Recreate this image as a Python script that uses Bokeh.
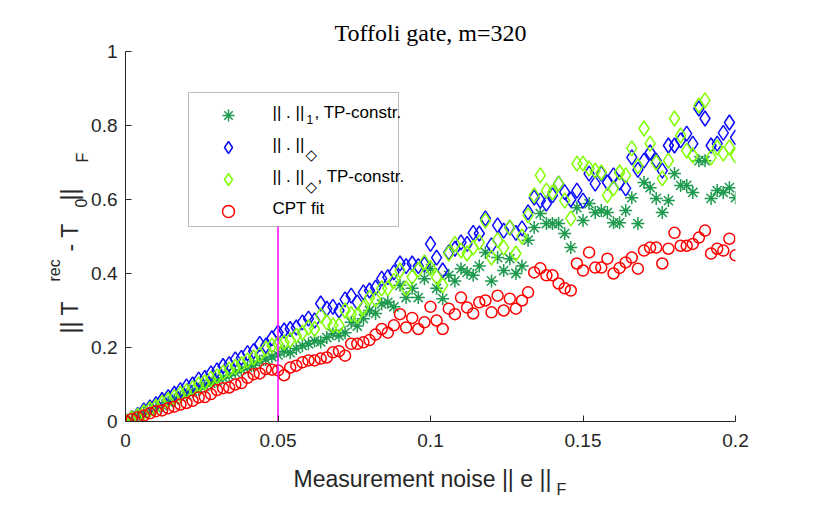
from math import pi

import numpy as np
from bokeh.embed import file_html
from bokeh.models import BoxAnnotation, FixedTicker, Label, Legend, LegendItem, Range1d
from bokeh.plotting import figure
from bokeh.resources import INLINE

# Measurement noise levels ||e||_F
noise = np.round(np.arange(101) * 0.002, 3)

# Reconstruction error ||T^rec - T_0||_F for each method
err_l1_tp = [
    0.0, 0.007, 0.015, 0.022, 0.030, 0.037, 0.043, 0.052, 0.058, 0.066,
    0.072, 0.082, 0.088, 0.095, 0.103, 0.110, 0.118, 0.124, 0.132, 0.140,
    0.147, 0.152, 0.163, 0.168, 0.175, 0.180, 0.190, 0.186, 0.197, 0.205,
    0.210, 0.218, 0.215, 0.227, 0.237, 0.232, 0.240, 0.268, 0.258, 0.278,
    0.300, 0.292, 0.318, 0.322, 0.310, 0.368, 0.335, 0.360, 0.335, 0.386,
    0.413, 0.360, 0.332, 0.395, 0.380, 0.413, 0.403, 0.395, 0.420, 0.457,
    0.380, 0.443, 0.408, 0.440, 0.400, 0.420, 0.490, 0.524, 0.562, 0.535,
    0.535, 0.535, 0.508, 0.470, 0.578, 0.543, 0.589, 0.565, 0.570, 0.565,
    0.537, 0.537, 0.570, 0.605, 0.535, 0.646, 0.632, 0.603, 0.565, 0.597,
    0.670, 0.638, 0.638, 0.619, 0.705, 0.705, 0.603, 0.624, 0.619, 0.632,
    0.605,
]
err_dia = [
    0.0, 0.009, 0.018, 0.030, 0.038, 0.047, 0.058, 0.066, 0.075, 0.085,
    0.095, 0.100, 0.113, 0.118, 0.130, 0.138, 0.150, 0.155, 0.168, 0.172,
    0.185, 0.190, 0.210, 0.205, 0.225, 0.240, 0.246, 0.250, 0.254, 0.268,
    0.278, 0.273, 0.319, 0.305, 0.310, 0.300, 0.330, 0.340, 0.322, 0.349,
    0.354, 0.362, 0.386, 0.390, 0.403, 0.427, 0.420, 0.427, 0.420, 0.425,
    0.480, 0.443, 0.408, 0.457, 0.467, 0.484, 0.480, 0.510, 0.508, 0.549,
    0.476, 0.530, 0.516, 0.524, 0.510, 0.522, 0.565, 0.605, 0.597, 0.589,
    0.611, 0.643, 0.620, 0.600, 0.624, 0.597, 0.670, 0.643, 0.670, 0.646,
    0.665, 0.646, 0.630, 0.714, 0.680, 0.705, 0.727, 0.705, 0.678, 0.746,
    0.746, 0.760, 0.778, 0.751, 0.846, 0.819, 0.746, 0.751, 0.780, 0.808,
    0.768,
]
err_dia_tp = [
    0.0, 0.008, 0.016, 0.025, 0.033, 0.040, 0.050, 0.058, 0.066, 0.075,
    0.082, 0.090, 0.100, 0.106, 0.115, 0.122, 0.132, 0.140, 0.148, 0.155,
    0.165, 0.173, 0.180, 0.197, 0.205, 0.210, 0.214, 0.220, 0.232, 0.240,
    0.254, 0.250, 0.286, 0.268, 0.260, 0.260, 0.300, 0.290, 0.286, 0.308,
    0.335, 0.330, 0.360, 0.360, 0.380, 0.408, 0.360, 0.390, 0.410, 0.430,
    0.415, 0.390, 0.368, 0.454, 0.480, 0.462, 0.454, 0.470, 0.484, 0.543,
    0.443, 0.490, 0.470, 0.524, 0.454, 0.500, 0.557, 0.611, 0.665, 0.624,
    0.619, 0.643, 0.597, 0.549, 0.697, 0.697, 0.684, 0.678, 0.673, 0.611,
    0.630, 0.673, 0.665, 0.738, 0.690, 0.792, 0.751, 0.700, 0.657, 0.705,
    0.819, 0.773, 0.732, 0.719, 0.854, 0.868, 0.714, 0.741, 0.724, 0.741,
    0.719,
]
err_cpt = [
    0.0, 0.006, 0.011, 0.016, 0.022, 0.028, 0.030, 0.036, 0.040, 0.046,
    0.050, 0.056, 0.065, 0.066, 0.074, 0.085, 0.090, 0.092, 0.100, 0.104,
    0.118, 0.128, 0.130, 0.142, 0.140, 0.138, 0.125, 0.146, 0.151, 0.160,
    0.165, 0.165, 0.170, 0.173, 0.187, 0.190, 0.178, 0.210, 0.210, 0.214,
    0.220, 0.235, 0.250, 0.240, 0.260, 0.290, 0.254, 0.280, 0.250, 0.268,
    0.310, 0.273, 0.250, 0.305, 0.290, 0.335, 0.308, 0.292, 0.322, 0.327,
    0.295, 0.340, 0.300, 0.332, 0.305, 0.327, 0.349, 0.403, 0.414, 0.395,
    0.395, 0.373, 0.360, 0.354, 0.427, 0.408, 0.457, 0.416, 0.416, 0.440,
    0.400, 0.415, 0.430, 0.443, 0.413, 0.462, 0.470, 0.470, 0.427, 0.467,
    0.510, 0.475, 0.475, 0.480, 0.497, 0.516, 0.454, 0.467, 0.462, 0.494,
    0.449,
]

noise_marker = 0.05

x_ticks = [0, 0.05, 0.1, 0.15, 0.2]
x_tick_labels = ["0", "0.05", "0.1", "0.15", "0.2"]
y_ticks = [0, 0.2, 0.4, 0.6, 0.8, 1]
y_tick_labels = ["0", "0.2", "0.4", "0.6", "0.8", "1"]

W, H = 834, 515
BL, BR, BT, BB = 125, 99, 51, 94
XMAX, YMAX = 0.2, 1.0

AX = "#262626"
GREEN = "#1d9a4e"
BLUE = "#0a0aff"
LIME = "#80ff00"
RED = "#ff0000"
MAGENTA = "#ff00ff"

p = figure(
    width=W, height=H,
    x_range=Range1d(0, XMAX), y_range=Range1d(0, YMAX),
    output_backend="svg", toolbar_location=None,
    min_border_left=BL, min_border_right=BR,
    min_border_top=BT, min_border_bottom=BB,
    background_fill_color="white", border_fill_color="white",
)
p.outline_line_color = None
p.xgrid.visible = False
p.ygrid.visible = False

p.title.text = "Toffoli gate, m=320"
p.title.align = "center"
p.title.text_font = "Liberation Serif"
p.title.text_font_size = "24px"
p.title.text_font_style = "normal"
p.title.text_color = "black"
p.title.standoff = 11

for ax in (p.xaxis, p.yaxis):
    ax.axis_line_color = AX
    ax.axis_line_width = 1
    ax.major_tick_line_color = AX
    ax.major_tick_in = 6
    ax.major_tick_out = 0
    ax.minor_tick_line_color = None
    ax.major_label_text_font = "Liberation Sans"
    ax.major_label_text_font_size = "19px"
    ax.major_label_text_color = AX

p.xaxis.ticker = FixedTicker(ticks=x_ticks)
p.xaxis.major_label_overrides = dict(zip(x_ticks, x_tick_labels))
p.xaxis.major_label_standoff = 12
p.yaxis.ticker = FixedTicker(ticks=y_ticks)
p.yaxis.major_label_overrides = dict(zip(y_ticks, y_tick_labels))
p.yaxis.major_label_standoff = 8

r_l1 = p.scatter(noise, err_l1_tp, marker="asterisk", size=13,
                 line_color=GREEN, line_width=1.5)
r_dia = p.scatter(noise, err_dia, marker="diamond", size=15, fill_color=None,
                  line_color=BLUE, line_width=1.5)
r_dia_tp = p.scatter(noise, err_dia_tp, marker="diamond", size=15, fill_color=None,
                     line_color=LIME, line_width=1.5)
r_cpt = p.scatter(noise, err_cpt, marker="circle", size=11, fill_color=None,
                  line_color=RED, line_width=1.5)

# vertical marker at the reference noise level (runs under the legend box)
p.segment(x0=[noise_marker], y0=[0], x1=[noise_marker], y1=[0.55],
          line_color=MAGENTA, line_width=1.5)


def sx2x(sx):
    return (sx - BL) / (W - BL - BR) * XMAX


def sy2y(sy):
    return (H - BB - sy) / (H - BT - BB) * YMAX


# legend frame
p.add_layout(BoxAnnotation(
    left=sx2x(188), right=sx2x(398), top=sy2y(92), bottom=sy2y(226),
    fill_color="white", fill_alpha=1.0, line_color=AX, line_width=1,
))

legend = Legend(
    items=[LegendItem(label=" ", renderers=[r]) for r in (r_l1, r_dia, r_dia_tp, r_cpt)],
    location=(63, 195),
    glyph_width=80, glyph_height=30, label_height=30, label_width=122,
    label_standoff=0, spacing=2, padding=4, margin=0,
    border_line_color=None, background_fill_alpha=0.0,
)
p.add_layout(legend)


def txt(sx, sy, s, size, font="Liberation Sans", angle=0.0, align="left",
        color=AX, place="center"):
    p.add_layout(Label(
        x=sx2x(sx), y=sy2y(sy), text=s, text_font=font,
        text_font_size=f"{size}px", angle=angle, text_align=align,
        text_baseline="middle", text_color=color,
    ), place)


# legend entries with sub-scripted norms
LEG = "black"
txt(272, 112, "|| . ||", 17, color=LEG)
txt(306, 119, "1", 12, color=LEG)
txt(314, 112, ", TP-constr.", 17, color=LEG)
txt(272, 144, "|| . ||", 17, color=LEG)
txt(305, 154, "\u25c7", 15, font="DejaVu Sans", color=LEG)
txt(272, 176, "|| . ||", 17, color=LEG)
txt(305, 186, "\u25c7", 15, font="DejaVu Sans", color=LEG)
txt(317, 176, ", TP-constr.", 17, color=LEG)
txt(272, 208, "CPT fit", 17, color=LEG)

# x-axis label
txt(293, 478, "Measurement noise || e ||", 23, place="below")
txt(556, 489, "F", 16, place="below")

# y-axis label (rotated, reads bottom to top); the smaller script
# pieces sit in the right-hand panel, which has room to spare
VA = pi / 2
txt(69, 333, "|| T", 23, angle=VA, place="left")
txt(69, 251, " - T", 23, angle=VA, place="left")
txt(69, 200, " ||", 23, angle=VA, place="left")
txt(54, 281, "rec", 16, angle=VA, place="right")
txt(80, 207, "0", 16, angle=VA, place="right")
txt(82, 162, "F", 16, angle=VA, place="right")

open("out.html", "w").write(file_html(p, INLINE))
